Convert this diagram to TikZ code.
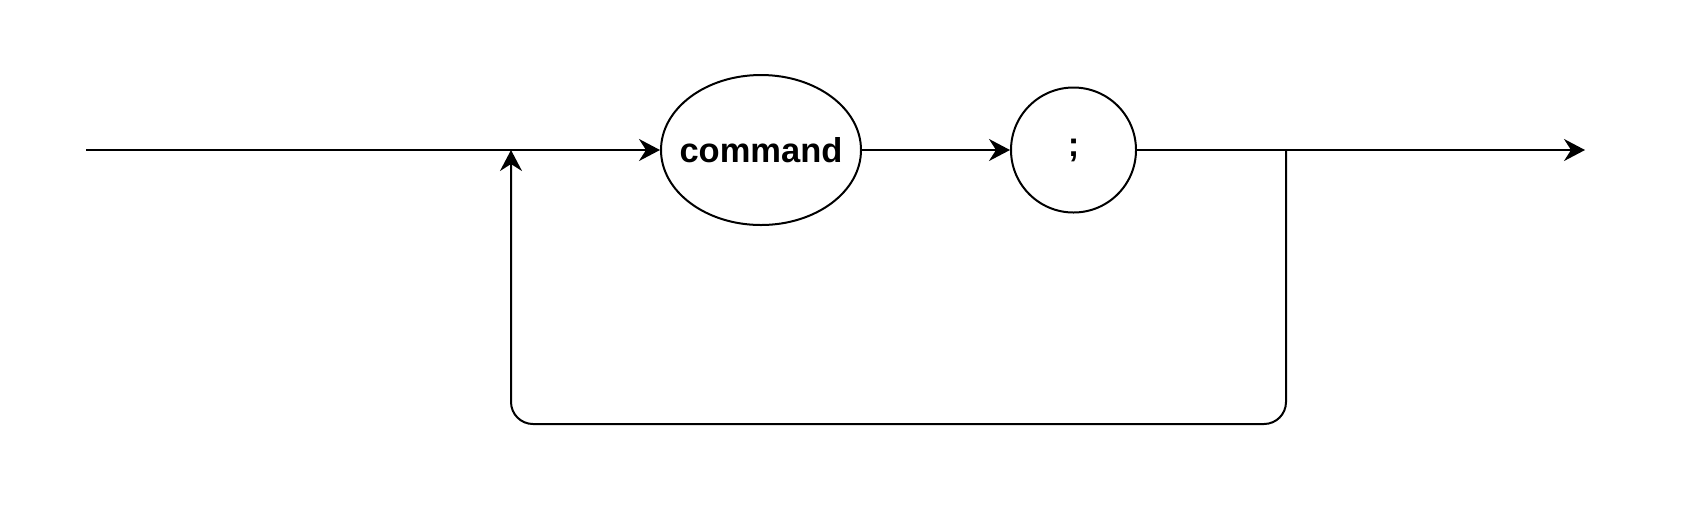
\documentclass[tikz,border=0pt]{standalone}
\usepackage{fontspec}
\setmainfont{Liberation Sans}
\usetikzlibrary{shapes.geometric,arrows.meta,positioning}

\tikzset{
  term/.style={draw, line width=1pt, inner sep=0pt, font=\bfseries\fontsize{17.25}{20}\selectfont},
  flow/.style={line width=1pt},
}

\begin{document}
\begin{tikzpicture}[x=0.5pt, y=-0.5pt, >={Stealth[length=10.5pt,width=11pt,inset=3.5pt]}]
  \useasboundingbox (0,0) rectangle (1696,516);
  % the two terminals
  \node[term, ellipse, minimum width=100pt, minimum height=75pt] (cmd) at (761,150) {\makebox[0pt]{command}};
  \node[term, circle, minimum size=62.5pt] (semi) at (1073.5,150) {;};
  % points on the main line
  \coordinate (start) at (86,150);
  \coordinate (join) at (511,150);
  \coordinate (split) at (1286,150);
  \coordinate (finish) at (1585,150);
  \coordinate (bottom) at (0,424);
  % main line
  \draw[flow] (start) -- (join);
  \draw[flow, ->] (join) -- (cmd);
  \draw[flow, ->] (cmd) -- (semi);
  \draw[flow] (semi) -- (split);
  \draw[flow, ->] (split) -- (finish);
  % loop back
  \draw[flow, ->, rounded corners=11pt] (split) -- (split |- bottom) -- (join |- bottom) -- (join);
\end{tikzpicture}
\end{document}
